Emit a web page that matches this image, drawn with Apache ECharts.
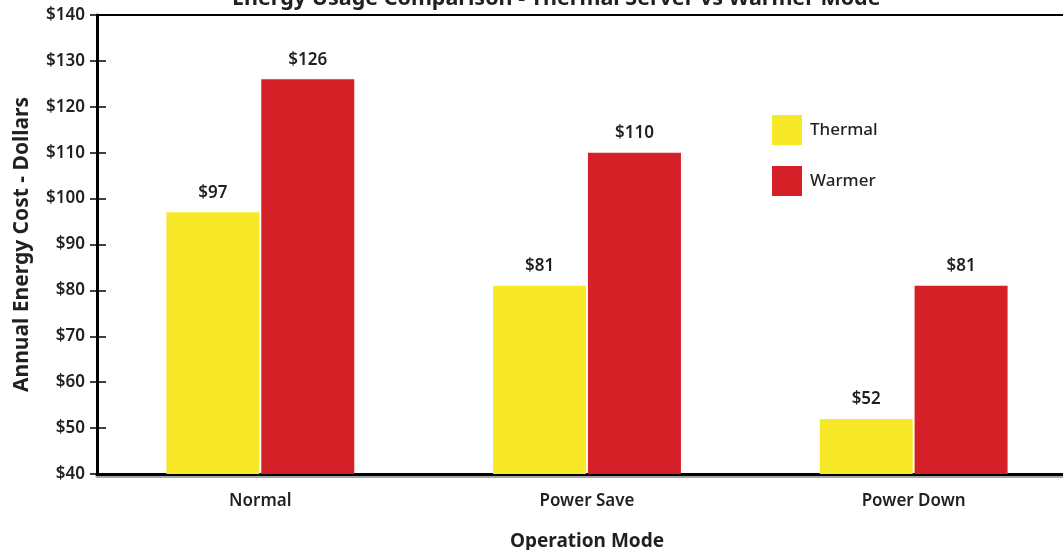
<!DOCTYPE html>
<html>
<head>
<meta charset="utf-8">
<script src="https://cdn.jsdelivr.net/npm/echarts@6/dist/echarts.min.js"></script>
<style>
  html, body { margin: 0; padding: 0; background: #fff; }
  #chart { width: 1063px; height: 550px; }
</style>
</head>
<body>
<div id="chart"></div>
<script>
// Annual energy cost per operation mode
const categories = ['Normal', 'Power Save', 'Power Down'];
const thermal = [97, 81, 52];
const warmer = [126, 110, 81];
const seriesNames = ['Thermal', 'Warmer'];
const yMin = 40, yMax = 140, yStep = 10;

const FONT = '"Noto Sans", "Open Sans", sans-serif';
const INK = '#231f20';

const chart = echarts.init(document.getElementById('chart'), null, { renderer: 'canvas' });

const labelStyle = {
  show: true,
  position: 'top',
  distance: 11,
  formatter: p => '$' + p.value,
  color: INK,
  fontFamily: FONT,
  fontSize: 17,
  fontWeight: 600
};

chart.setOption({
  animation: false,
  backgroundColor: '#ffffff',
  title: {
    text: 'Energy Usage Comparison - Thermal Server vs Warmer Mode',
    left: 227,
    top: -17,
    textStyle: { color: INK, fontFamily: FONT, fontSize: 21.5, fontWeight: 'bold' }
  },
  legend: {
    orient: 'vertical',
    left: 772,
    top: 115,
    padding: 0,
    itemWidth: 30,
    itemHeight: 30,
    itemGap: 21,
    icon: 'rect',
    data: seriesNames,
    textStyle: { color: INK, fontFamily: FONT, fontSize: 17, fontWeight: 500, padding: [0, 0, 0, 3] }
  },
  grid: { left: 97, top: 15, width: 980, height: 459, containLabel: false, outerBoundsMode: 'none' },
  xAxis: [
    {
      type: 'category',
      data: categories,
      position: 'bottom',
      name: 'Operation Mode',
      nameLocation: 'middle',
      nameGap: 58,
      nameTextStyle: { color: INK, fontFamily: FONT, fontSize: 19, fontWeight: 'bold' },
      axisLine: { lineStyle: { color: '#000', width: 3, shadowColor: 'rgba(0,0,0,0.35)', shadowOffsetY: 2 } },
      axisTick: { show: false },
      axisLabel: { color: INK, fontFamily: FONT, fontSize: 17, fontWeight: 600, margin: 19 }
    },
    {
      type: 'category',
      data: categories,
      position: 'top',
      axisLine: { lineStyle: { color: '#000', width: 2 } },
      axisTick: { show: false },
      axisLabel: { show: false }
    }
  ],
  yAxis: [
    {
      type: 'value',
      min: yMin,
      max: yMax,
      interval: yStep,
      name: 'Annual Energy Cost - Dollars',
      nameLocation: 'middle',
      nameGap: 64,
      nameRotate: 90,
      nameTextStyle: { color: INK, fontFamily: FONT, fontSize: 21, fontWeight: 'bold' },
      axisLine: { show: true, lineStyle: { color: '#000', width: 3 } },
      axisTick: { show: true, length: 7, lineStyle: { color: '#000', width: 1.5 } },
      axisLabel: { color: INK, fontFamily: FONT, fontSize: 17, fontWeight: 600, margin: 12, formatter: v => '$' + v },
      splitLine: { show: false }
    },
    {
      // inner half of the straddling tick marks
      type: 'value',
      min: yMin,
      max: yMax,
      interval: yStep,
      position: 'left',
      axisLine: { show: false },
      axisTick: { show: true, inside: true, length: 9, lineStyle: { color: '#000', width: 1.5 } },
      axisLabel: { show: false },
      splitLine: { show: false }
    }
  ],
  series: [
    {
      name: seriesNames[0],
      type: 'bar',
      data: thermal,
      barWidth: 93,
      barGap: '2%',
      itemStyle: { color: '#f7e928' },
      label: labelStyle
    },
    {
      name: seriesNames[1],
      type: 'bar',
      data: warmer,
      barWidth: 93,
      barGap: '2%',
      itemStyle: { color: '#d52027' },
      label: labelStyle
    }
  ]
});
</script>
</body>
</html>
